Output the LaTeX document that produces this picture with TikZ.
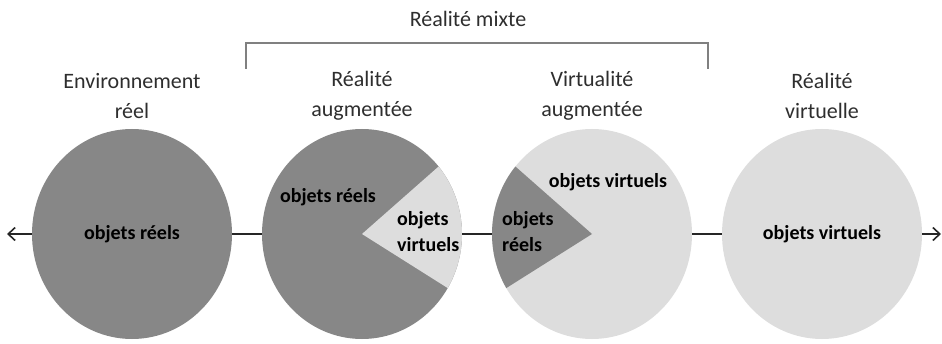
\documentclass[tikz,border=0pt]{standalone}
\usepackage{fontspec}
\setmainfont{Carlito}
\usetikzlibrary{arrows.meta, shapes.geometric}
\definecolor{darkpart}{RGB}{135,135,135}
\definecolor{lightpart}{RGB}{221,221,221}
\tikzset{
	disc/.style={ellipse, minimum width=200pt, minimum height=210pt, inner sep=0pt},
	inside/.style={font=\fontsize{20}{26}\selectfont\bfseries, text=black, inner sep=0pt},
	title/.style={font=\fontsize{22}{30}\selectfont, text=black!82, align=center, inner sep=0pt},
	axis/.style={line width=1.6pt, draw=black!85},
	tip/.style={-{Straight Barb[length=7pt, width=13pt]}},
	bracket/.style={line width=1.2pt, draw=black!50}
}

\begin{document}
\begin{tikzpicture}[x=1pt, y=1pt]
	\useasboundingbox (0,0) rectangle (942,343);
	% the four worlds
	\node[disc, fill=darkpart, inside] (env) at (132,109) {objets réels};
	\node[disc, fill=darkpart] (ra) at (362,109) {};
	\node[disc, fill=lightpart] (va) at (592,109) {};
	\node[disc, fill=lightpart, inside] (rv) at (822,109) {objets virtuels};
	% slices
	\fill[lightpart] (ra.center) -- ++(-31:100 and 105) arc[start angle=-31, end angle=40, x radius=100, y radius=105] -- cycle;
	\fill[darkpart] (va.center) -- ++(140:100 and 105) arc[start angle=140, end angle=211, x radius=100, y radius=105] -- cycle;
	\node[inside] (rareel) at (328,146) {objets réels};
	\node[inside, align=left, anchor=west] (ravirt) at (397,111) {objets\\virtuels};
	\node[inside] (vavirt) at (608,161) {objets virtuels};
	\node[inside, align=left, anchor=west] (vareel) at (502,111) {objets\\réels};
	% continuum
	\coordinate (leftend) at (7,109);
	\coordinate (rightend) at (941,109);
	\draw[axis, tip] (env.west) -- (leftend);
	\draw[axis] (env.east) -- (ra.west);
	\draw[axis] (ra.east) -- (va.west);
	\draw[axis] (va.east) -- (rv.west);
	\draw[axis, tip] (rv.east) -- (rightend);
	% labels
	\node[title] (envlab) at (132,247) {Environnement\\réel};
	\node[title] (ralab) at (362,247) {Réalité\\augmentée};
	\node[title] (valab) at (592,247) {Virtualité\\augmentée};
	\node[title] (rvlab) at (822,247) {Réalité\\virtuelle};
	% mixed reality bracket
	\coordinate (mixl) at (246,274);
	\coordinate (mixr) at (708,274);
	\draw[bracket] (mixl) -- ++(0,26) -| (mixr);
	\node[title] (mix) at (468,324) {Réalité mixte};
\end{tikzpicture}
\end{document}
